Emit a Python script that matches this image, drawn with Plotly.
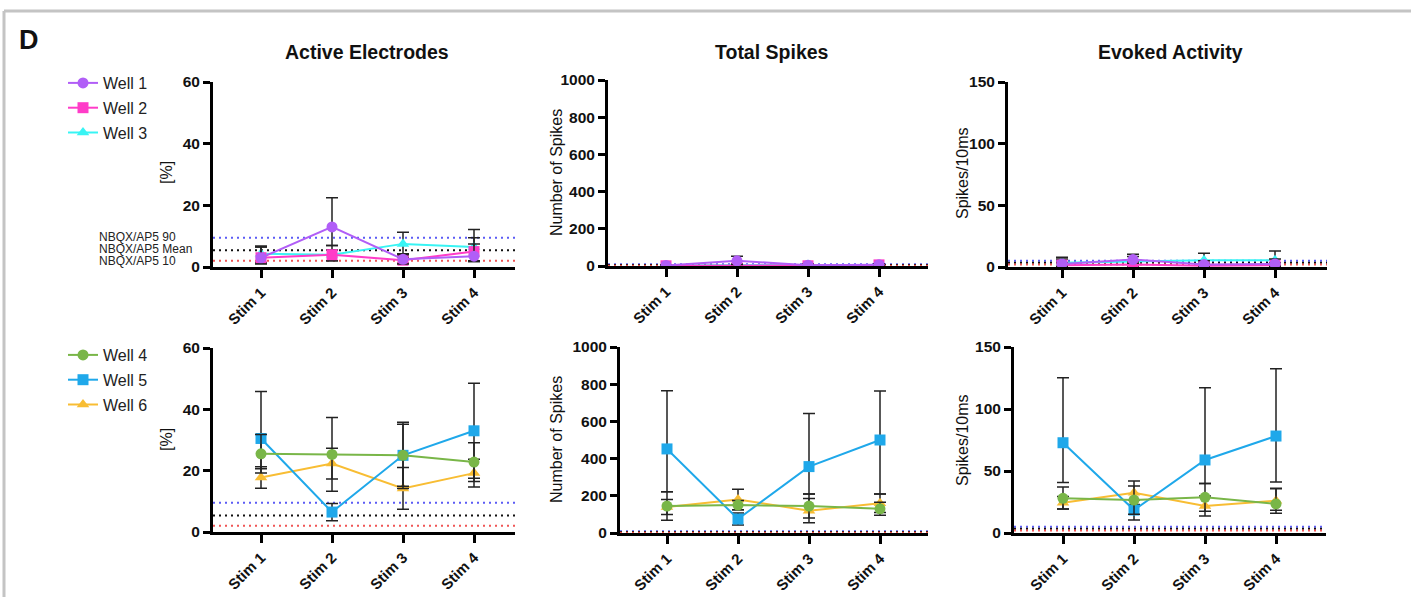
import plotly.graph_objects as go

W, H = 1411, 597
FONT = "Liberation Sans, Arial, sans-serif"

stims = ["Stim 1", "Stim 2", "Stim 3", "Stim 4"]
xpos = [0, 1, 2, 3]
well_names = ["Well 1", "Well 2", "Well 3", "Well 4", "Well 5", "Well 6"]
well_colors = ["#b15ef7", "#ff3cc8", "#38f4f4", "#79b648", "#1fa8ea", "#f8bd33"]
well_symbols = ["circle", "square", "triangle-up", "circle", "square", "triangle-up"]

# ---- Active Electrodes [%] ----
ae_val = {
    "Well 1": [3.0, 13.0, 2.5, 3.5],
    "Well 2": [3.0, 4.0, 2.2, 5.0],
    "Well 3": [4.3, 4.0, 7.5, 6.5],
    "Well 4": [25.5, 25.3, 25.0, 22.8],
    "Well 5": [30.5, 6.5, 25.0, 33.0],
    "Well 6": [17.8, 22.3, 14.2, 19.2],
}
ae_up = {
    "Well 1": [3.5, 9.5, 1.5, 6.0],
    "Well 2": [3.5, 1.5, 1.0, 2.5],
    "Well 3": [2.5, 3.0, 3.8, 5.7],
    "Well 4": [6.3, 12.0, 10.8, 6.3],
    "Well 5": [15.3, 2.8, 10.1, 15.5],
    "Well 6": [3.5, 5.0, 6.8, 4.5],
}
ae_dn = {
    "Well 1": [2.0, 6.0, 1.5, 1.7],
    "Well 2": [1.5, 2.0, 1.0, 3.0],
    "Well 3": [3.0, 2.0, 3.2, 4.7],
    "Well 4": [6.3, 12.0, 10.8, 6.3],
    "Well 5": [9.9, 2.8, 10.1, 15.5],
    "Well 6": [3.5, 5.0, 6.8, 4.5],
}

# ---- Total Spikes ----
ts_val = {
    "Well 1": [3, 28, 4, 7],
    "Well 2": [1, 2, 1, 6],
    "Well 3": [3, 6, 6, 4],
    "Well 4": [145, 150, 145, 130],
    "Well 5": [452, 75, 357, 500],
    "Well 6": [140, 180, 120, 160],
}
ts_up = {
    "Well 1": [4, 25, 4, 5],
    "Well 2": [2, 3, 2, 4],
    "Well 3": [4, 5, 5, 4],
    "Well 4": [77, 25, 65, 35],
    "Well 5": [313, 32, 286, 263],
    "Well 6": [40, 55, 65, 50],
}
ts_dn = {
    "Well 1": [3, 20, 4, 5],
    "Well 2": [1, 2, 1, 4],
    "Well 3": [3, 5, 5, 4],
    "Well 4": [77, 25, 65, 35],
    "Well 5": [230, 32, 147, 290],
    "Well 6": [40, 55, 65, 50],
}

# ---- Evoked Activity (Spikes/10ms) ----
ev_val = {
    "Well 1": [2.5, 6.0, 2.0, 2.5],
    "Well 2": [1.5, 2.0, 1.0, 1.5],
    "Well 3": [3.5, 4.5, 5.5, 5.5],
    "Well 4": [28.0, 26.6, 28.8, 23.4],
    "Well 5": [72.8, 18.5, 58.9, 78.2],
    "Well 6": [24.4, 32.5, 21.8, 26.0],
}
ev_up = {
    "Well 1": [5.4, 4.3, 3.0, 4.0],
    "Well 2": [2.0, 2.0, 2.0, 2.0],
    "Well 3": [3.0, 4.0, 5.6, 7.5],
    "Well 4": [9.0, 11.4, 11.2, 12.3],
    "Well 5": [52.5, 8.0, 58.3, 54.3],
    "Well 6": [5.0, 9.5, 8.0, 10.0],
}
ev_dn = {
    "Well 1": [2.0, 3.0, 2.0, 2.0],
    "Well 2": [1.5, 2.0, 1.0, 1.5],
    "Well 3": [3.0, 4.0, 4.0, 4.0],
    "Well 4": [8.6, 11.4, 11.2, 5.0],
    "Well 5": [32.0, 8.0, 19.0, 37.0],
    "Well 6": [5.0, 9.5, 8.0, 10.0],
}

# NBQX/AP5 reference levels (90th percentile, mean, 10th percentile)
ref_labels = ["NBQX/AP5 90", "NBQX/AP5 Mean", "NBQX/AP5 10"]
ref_colors = ["#5b5bf5", "#111111", "#f05555"]
ae_ref = [9.5, 5.4, 2.0]
ts_ref = [10, 5, 2]
ev_ref = [5.0, 3.5, 2.0]

titles = ["Active Electrodes", "Total Spikes", "Evoked Activity"]
ytitles = ["[%]", "Number of Spikes", "Spikes/10ms"]

# panel pixel geometry: (x_left, x_right, y_top, y_bottom, first-category px)
panels = [
    dict(px=(213, 515), py=(82, 267), c0=261, ymax=60, dtick=20, data=(ae_val, ae_up, ae_dn), wells=well_names[:3], ref=ae_ref),
    dict(px=(608, 928), py=(80, 266), c0=666, ymax=1000, dtick=200, data=(ts_val, ts_up, ts_dn), wells=well_names[:3], ref=ts_ref),
    dict(px=(1008, 1327), py=(82, 267), c0=1062, ymax=150, dtick=50, data=(ev_val, ev_up, ev_dn), wells=well_names[:3], ref=ev_ref),
    dict(px=(213, 515), py=(348, 532), c0=261, ymax=60, dtick=20, data=(ae_val, ae_up, ae_dn), wells=well_names[3:], ref=ae_ref),
    dict(px=(620, 928), py=(347, 533), c0=667, ymax=1000, dtick=200, data=(ts_val, ts_up, ts_dn), wells=well_names[3:], ref=ts_ref),
    dict(px=(1014, 1326), py=(347, 533), c0=1063, ymax=150, dtick=50, data=(ev_val, ev_up, ev_dn), wells=well_names[3:], ref=ev_ref),
]
SPACING = 71.0

fig = go.Figure()
layout = dict(
    width=W, height=H,
    margin=dict(l=0, r=0, t=0, b=0, autoexpand=False),
    paper_bgcolor="white", plot_bgcolor="white",
    font=dict(family=FONT, color="#111111"),
    shapes=[], annotations=[],
)

for i, p in enumerate(panels):
    n = i + 1
    xa = "xaxis" if n == 1 else f"xaxis{n}"
    ya = "yaxis" if n == 1 else f"yaxis{n}"
    xr = "x" if n == 1 else f"x{n}"
    yr = "y" if n == 1 else f"y{n}"
    x0, x1 = p["px"]
    yt, yb = p["py"]
    lo = (x0 - p["c0"]) / SPACING
    hi = (x1 - p["c0"]) / SPACING
    layout[xa] = dict(
        domain=[x0 / W, x1 / W], anchor=yr, range=[lo, hi],
        tickmode="array", tickvals=xpos, ticktext=stims, tickangle=-45,
        showline=True, linecolor="black", linewidth=3,
        ticks="outside", ticklen=8, tickwidth=3, tickcolor="black",
        showgrid=False, zeroline=False, automargin=False,
        tickfont=dict(family=FONT, size=15, color="#111111", weight="bold"),
    )
    layout[ya] = dict(
        domain=[1 - yb / H, 1 - yt / H], anchor=xr, range=[0, p["ymax"]],
        tickmode="linear", tick0=0, dtick=p["dtick"],
        showline=True, linecolor="black", linewidth=3,
        ticks="outside", ticklen=7, tickwidth=3, tickcolor="black",
        showgrid=False, zeroline=False, automargin=False,
        tickfont=dict(family=FONT, size=15.5, color="#111111", weight="bold"),
    )
    # reference dotted lines
    for val, col in zip(p["ref"], ref_colors):
        layout["shapes"].append(dict(
            type="line", xref=f"{xr} domain", yref=yr, x0=0, x1=1, y0=val, y1=val,
            line=dict(color=col, width=2, dash="2px,4px"), layer="below",
        ))
    vals, ups, dns = p["data"]
    top_row = i < 3
    for w in reversed(p["wells"]):
        k = well_names.index(w)
        fig.add_trace(go.Scatter(
            x=xpos, y=vals[w], xaxis=xr, yaxis=yr,
            mode="lines+markers", name=w,
            line=dict(color=well_colors[k], width=2),
            marker=dict(color=well_colors[k], symbol=well_symbols[k], size=11,
                        line=dict(width=0)),
            error_y=dict(type="data", symmetric=False, array=ups[w], arrayminus=dns[w],
                         color="#222222", thickness=1.5, width=6),
            showlegend=(i in (0, 3)),
            legend="legend" if top_row else "legend2",
            legendgroup=w, legendrank=k + 1,
        ))

    # title and y-axis title
    if top_row:
        layout["annotations"].append(dict(
            text=f"<b>{titles[i % 3]}</b>", xref="paper", yref="paper",
            x=[367, 772, 1170][i % 3] / W, y=1 - 52 / H, showarrow=False,
            font=dict(family=FONT, size=19.5, color="#111111"), xanchor="center", yanchor="middle",
        ))
    ytx = [166, 556, 962][i % 3]
    yty = 173 if top_row else 440
    layout["annotations"].append(dict(
        text=ytitles[i % 3], xref="paper", yref="paper", x=ytx / W, y=1 - yty / H,
        textangle=-90, showarrow=False, xanchor="center", yanchor="middle",
        font=dict(family=FONT, size=16, color="#111111"),
    ))

# NBQX labels
for lab, yy in zip(ref_labels, [237, 249, 261]):
    layout["annotations"].append(dict(
        text=lab, xref="paper", yref="paper", x=97 / W, y=1 - yy / H, showarrow=False,
        xanchor="left", yanchor="middle", font=dict(family=FONT, size=12, color="#222222"),
    ))

# panel letter
layout["annotations"].append(dict(
    text="<b>D</b>", xref="paper", yref="paper", x=17 / W, y=1 - 40 / H, showarrow=False,
    xanchor="left", yanchor="middle", font=dict(family=FONT, size=27, color="#111111"),
))

# frame lines (gray border)
layout["shapes"].append(dict(type="line", xref="paper", yref="paper", x0=4 / W, x1=1, y0=1 - 11 / H, y1=1 - 11 / H,
                             line=dict(color="#c4c4c4", width=3)))
layout["shapes"].append(dict(type="line", xref="paper", yref="paper", x0=4 / W, x1=4 / W, y0=0, y1=1 - 11 / H,
                             line=dict(color="#c4c4c4", width=3)))

leg_common = dict(
    xanchor="left", yanchor="top", bgcolor="rgba(0,0,0,0)",
    font=dict(family=FONT, size=16, color="#222222"), tracegroupgap=1,
    itemwidth=30,
)
layout["legend"] = dict(x=63 / W, y=1 - 66 / H, **leg_common)
layout["legend2"] = dict(x=63 / W, y=1 - 338 / H, **leg_common)
layout["showlegend"] = True

fig.update_layout(**layout)
fig.write_html(
    "out.html",
    config={"displayModeBar": False},
    post_script="document.body.style.margin='0';document.body.style.padding='0';document.body.style.overflow='hidden';",
)
